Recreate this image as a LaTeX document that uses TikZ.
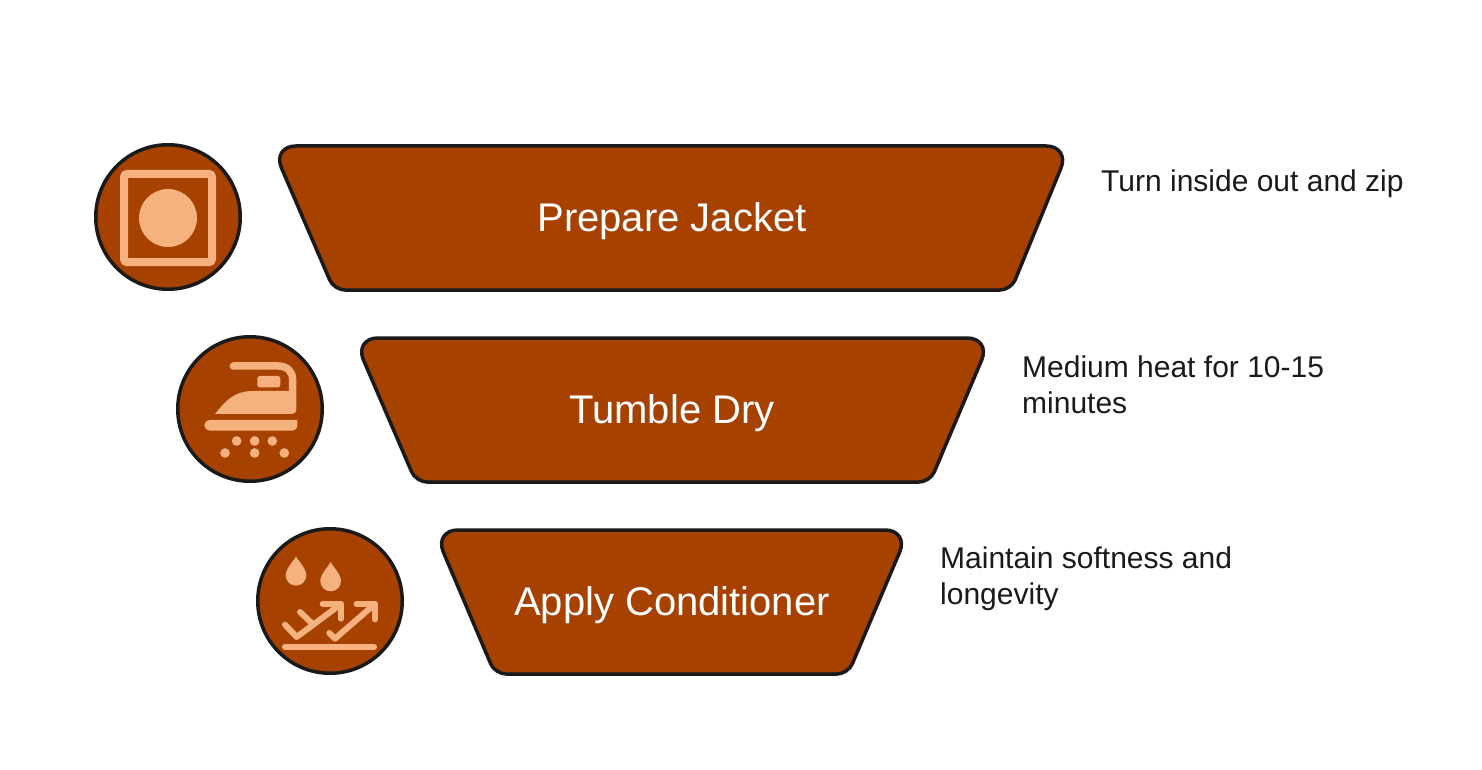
\documentclass[tikz,border=0pt]{standalone}
\usepackage{fontspec}
\setmainfont{Liberation Sans}
\usepackage{xcolor}
\definecolor{rust}{HTML}{A64100}
\definecolor{peach}{HTML}{F5B27F}
\definecolor{ink}{HTML}{1A1A1A}
\tikzset{
  funnel/.style={draw=ink,fill=rust,line width=3.5pt,line join=round},
  badge/.style={circle,draw=ink,fill=rust,line width=3.5pt,minimum size=144.5pt,inner sep=0pt},
  title/.style={text=white,font=\fontsize{40}{46}\selectfont,inner sep=0pt},
  note/.style={text=ink,font=\fontsize{30}{36}\selectfont,align=left,anchor=west,inner sep=0pt},
  iconline/.style={draw=peach,line cap=round,line join=round,line width=6pt},
  iconfill/.style={fill=peach}
}
\begin{document}
\begin{tikzpicture}[x=1pt,y=-1pt]
\useasboundingbox (0,0) rectangle (1482,770);
\fill [white] (0,0) rectangle (1482,770);
% funnel bands
\draw [funnel] (672,146) [rounded corners=24pt] -- (1070,146) [rounded corners=11pt] -- (1011,290) -- (334,290) [rounded corners=24pt] -- (272,146) -- cycle;
\node [title] (jacket) at (672,221) {Prepare Jacket};
\draw [funnel] (672,338) [rounded corners=24pt] -- (991,338) [rounded corners=11pt] -- (930,482) -- (416,482) [rounded corners=24pt] -- (354,338) -- cycle;
\node [title] (dry) at (672,413) {Tumble Dry};
\draw [funnel] (672,530) [rounded corners=24pt] -- (909,530) [rounded corners=11pt] -- (848,674) -- (495,674) [rounded corners=24pt] -- (434,530) -- cycle;
\node [title] (conditioner) at (672,605) {Apply Conditioner};
% side notes
\node [note] (jacketnote) at (1101,184) {Turn inside out and zip};
\node [note] (drynote) at (1022,385) {Medium heat for 10-15\\minutes};
\node [note] (conditionernote) at (940,579) {Maintain softness and\\longevity};
% badges
\node [badge] (square) at (168,217) {};
\node [badge] (iron) at (250,409) {};
\node [badge] (drops) at (330,601) {};
% square icon
\draw [peach,line width=8pt,rounded corners=3pt] (124,174) rectangle (212,262);
\fill [iconfill] (168,218) circle (29);
% iron icon
\begin{scope}[shift={(170,330)},scale=0.3333]
\draw [iconline,line width=7.5pt] (190,108) -- (325,108) .. controls (352,108) and (368,125) .. (368,150) -- (368,240);
\fill [iconfill,rounded corners=2.5pt] (262,138) rectangle (331,172);
\fill [iconfill] (135,252) .. controls (165,215) and (190,183) .. (250,183) -- (368,183) -- (368,252) -- cycle;
\fill [iconfill] (119,270) -- (382,270) -- (382,285) .. controls (382,295) and (375,302) .. (365,302) -- (119,302) arc (90:270:16) -- cycle;
\foreach \px/\py in {200/333,254/333,307/333,165/369,254/369,343/369}
  \fill [iconfill] (\px,\py) circle (14.5);
\end{scope}
% drops icon
\begin{scope}[shift={(250,522)},scale=0.3333]
\fill [iconfill] (138,103) .. controls (130,118) and (107,140) .. (107,160) arc (180:0:31) .. controls (169,140) and (146,118) .. (138,103) -- cycle;
\fill [iconfill] (242,120) .. controls (234,135) and (211,157) .. (211,177) arc (180:0:31) .. controls (273,157) and (250,135) .. (242,120) -- cycle;
\draw [iconline] (105,308) -- (140,345) -- (268,250);
\draw [iconline] (218,245) -- (273,245) -- (273,290);
\draw [iconline] (150,270) -- (190,308);
\draw [iconline] (238,333) -- (255,350) -- (370,250);
\draw [iconline] (320,245) -- (375,245) -- (375,292);
\draw [iconline] (105,375) -- (372,375);
\end{scope}
\end{tikzpicture}
\end{document}
